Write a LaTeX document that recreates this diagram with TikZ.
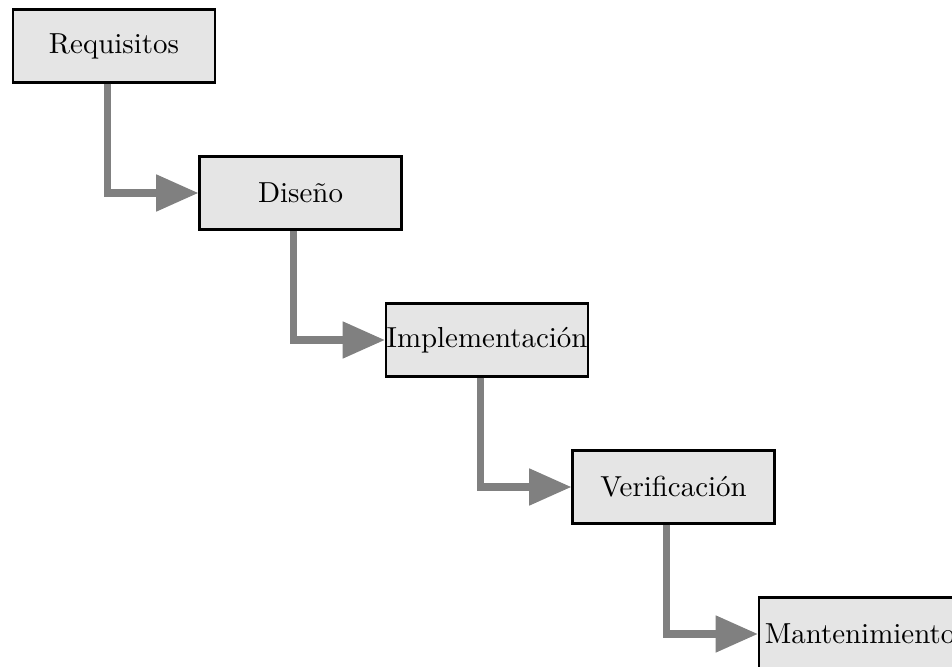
\documentclass[tikz,border=0pt]{standalone}
\usepackage{tikz}
\usetikzlibrary{arrows.meta}
\definecolor{mygray2}{RGB}{229, 229, 229}
\definecolor{myflow}{RGB}{128, 128, 128}

\begin{document}
\begin{tikzpicture}[
  fase/.style = {draw, thick, fill=mygray2, minimum width=2.626cm, minimum height=0.949cm, inner sep=0pt, font=\fontsize{10.7pt}{13pt}\selectfont},
  flujo/.style = {myflow, line width=2.6pt, -{Triangle[length=0.55cm, width=0.46cm]}}
]
\useasboundingbox (0,0) rectangle (12.376,-8.671);
\clip (0,0) rectangle (12.376,-8.671);
\node[fase] (req) at (1.482, -0.598) {Requisitos};
\node[fase] (dis) at (3.907, -2.509) {Diseño};
\node[fase] (imp) at (6.331, -4.420) {Implementación};
\node[fase] (ver) at (8.756, -6.331) {Verificación};
\node[fase] (man) at (11.180, -8.242) {Mantenimiento};
% flechas entre fases
\draw[flujo] ([xshift=-0.09cm]req.south) |- (dis.west);
\draw[flujo] ([xshift=-0.09cm]dis.south) |- (imp.west);
\draw[flujo] ([xshift=-0.09cm]imp.south) |- (ver.west);
\draw[flujo] ([xshift=-0.09cm]ver.south) |- (man.west);
\end{tikzpicture}
\end{document}
